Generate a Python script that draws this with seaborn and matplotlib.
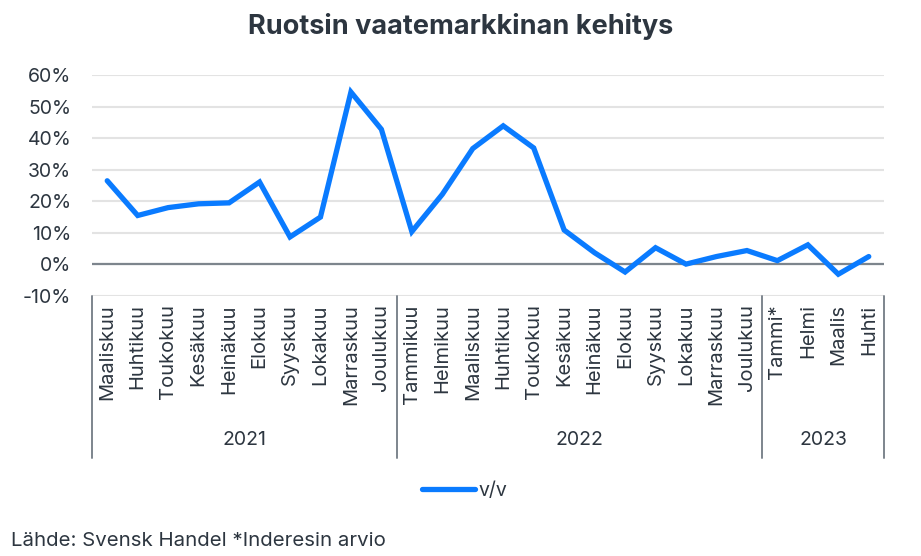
"""
Ruotsin vaatemarkkinan kehitys - viivakaavio
"""

import numpy as np
import pandas as pd
import matplotlib
matplotlib.use('Agg')
import matplotlib.pyplot as plt
import matplotlib.transforms as mtransforms
import seaborn as sns

# Data
months = ['Maaliskuu', 'Huhtikuu', 'Toukokuu', 'Kesäkuu', 'Heinäkuu', 'Elokuu',
          'Syyskuu', 'Lokakuu', 'Marraskuu', 'Joulukuu',
          'Tammikuu', 'Helmikuu', 'Maaliskuu', 'Huhtikuu', 'Toukokuu', 'Kesäkuu',
          'Heinäkuu', 'Elokuu', 'Syyskuu', 'Lokakuu', 'Marraskuu', 'Joulukuu',
          'Tammi*', 'Helmi', 'Maalis', 'Huhti']
years = ['2021', '2022', '2023']
year_lengths = [10, 12, 4]
yoy = [26.5, 15.5, 18.0, 19.2, 19.5, 26.1, 8.7, 15.0, 54.6, 42.8,
       10.4, 22.2, 36.7, 43.9, 36.9, 10.9, 3.7, -2.4, 5.3, 0.1, 2.5, 4.4,
       1.2, 6.2, -3.1, 2.5]

df = pd.DataFrame({'pos': np.arange(len(months)), 'v/v': yoy})

sns.set_style('white')
plt.rcParams['font.family'] = ['Inter', 'DejaVu Sans']

text_col = '#2d3640'
line_col = '#0a7bff'

fig = plt.figure(figsize=(9.21, 5.56), dpi=100)
ax = fig.add_axes([92 / 921, 1 - 296 / 556, (884 - 92) / 921, (296 - 75) / 556])

sns.lineplot(data=df, x='pos', y='v/v', ax=ax, color=line_col, linewidth=3.8,
             label='v/v', solid_capstyle='round', solid_joinstyle='miter')

ax.set_xlim(-0.5, len(months) - 0.5)
ax.set_ylim(-10, 60)
ax.set_yticks(range(-10, 61, 10))
ax.set_yticklabels([f'{v}%' for v in range(-10, 61, 10)], fontsize=14, color=text_col)
ax.yaxis.grid(True, color='#e3e3e3', linewidth=1.5)
ax.set_axisbelow(True)
ax.axhline(0, color='#7d858d', linewidth=1.6, zorder=1.5)
for s in ax.spines.values():
    s.set_visible(False)

ax.set_xticks(df['pos'])
ax.set_xticklabels(months, rotation=90, fontsize=14.5, color=text_col, va='top')
ax.tick_params(axis='both', length=0, pad=6)
ax.tick_params(axis='y', pad=15)
ax.set_xlabel('')
ax.set_ylabel('')

# vuosiryhmät
trans = mtransforms.blended_transform_factory(ax.transData, ax.transAxes)
bounds = np.concatenate([[0], np.cumsum(year_lengths)]) - 0.5
for b in bounds:
    ax.plot([b, b], [0, -0.735], transform=trans, color='#7d858d', linewidth=1.4,
            clip_on=False)
for i, y in enumerate(years):
    ax.text((bounds[i] + bounds[i + 1]) / 2, -0.65, y, transform=trans,
            ha='center', va='center', fontsize=14, color=text_col)

leg = ax.legend(loc='center', bbox_to_anchor=(465 / 921, 1 - 491 / 556),
                bbox_transform=fig.transFigure, frameon=False, fontsize=14,
                handlelength=2.7, handletextpad=0.2, labelcolor=text_col)

fig.text(0.5, 1 - 27 / 556, 'Ruotsin vaatemarkkinan kehitys', ha='center', va='center',
         fontsize=19.5, fontweight='bold', color=text_col)
fig.text(11 / 921, 1 - 541 / 556, 'Lähde: Svensk Handel *Inderesin arvio', ha='left',
         va='center', fontsize=14.7, color=text_col)

fig.savefig('out.png', dpi=100)
